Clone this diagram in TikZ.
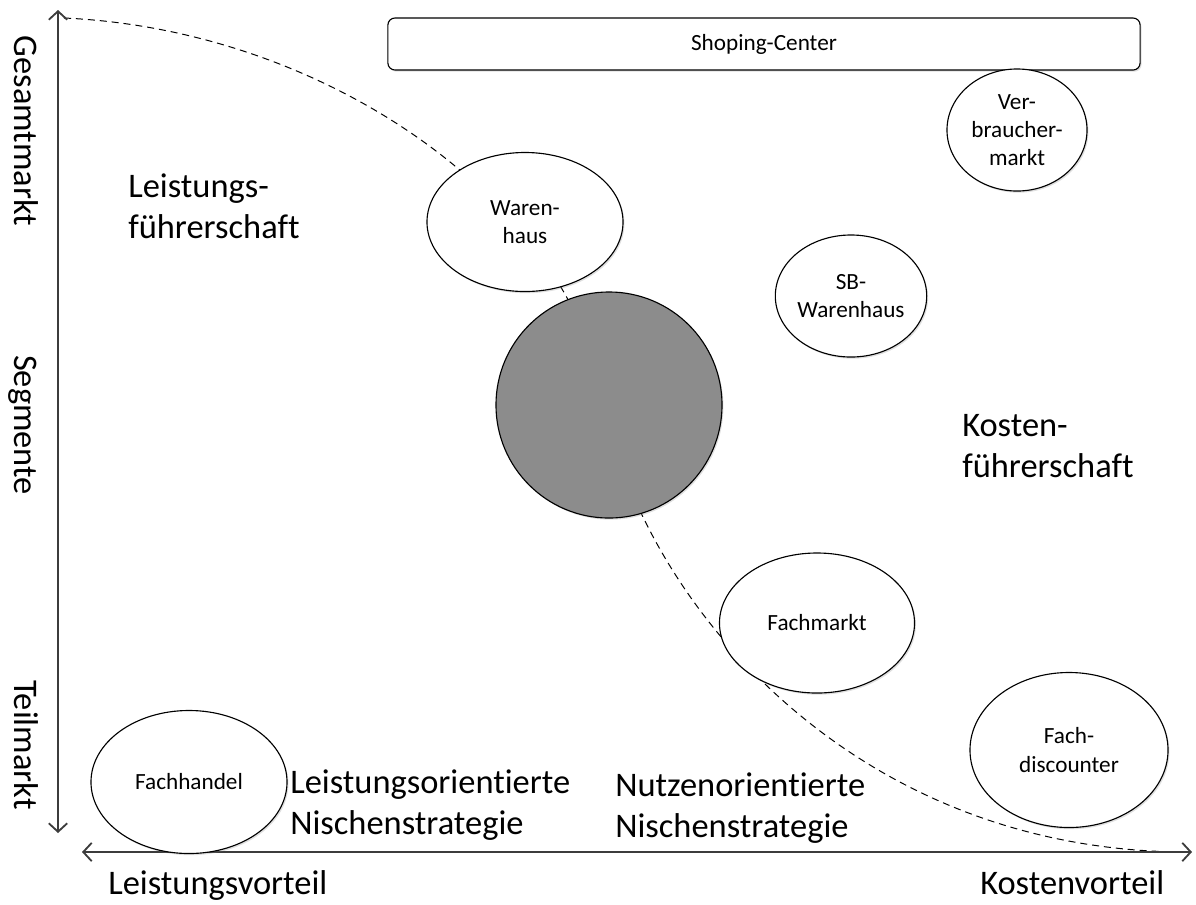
\documentclass[tikz,border=0pt]{standalone}
\usepackage{fontspec}
\setmainfont{Carlito}[Ligatures=NoCommon]
\usetikzlibrary{shapes.geometric,arrows.meta,shadows,positioning}
\definecolor{bubblegray}{RGB}{140,140,140}
\definecolor{axisgray}{RGB}{60,60,60}

\tikzset{
    >={Straight Barb[length=6pt,width=13pt]},
    axis/.style={<->, line width=1.3pt, axisgray},
    border/.style={dash pattern=on 5pt off 3.5pt, line width=0.7pt},
    softshadow/.style={drop shadow={opacity=0.25, shadow xshift=1pt, shadow yshift=-1.2pt}},
    store/.style={ellipse, draw, fill=white, line width=0.8pt, inner sep=0pt,
        align=center, softshadow, font=\fontsize{16.5}{20}\selectfont},
    bigtext/.style={align=left, inner sep=0pt, font=\fontsize{24.5}{29}\selectfont},
    axislabel/.style={rotate=-90, inner sep=0pt, font=\fontsize{24.5}{29}\selectfont}
}

\begin{document}
\begin{tikzpicture}[x=0.025cm, y=-0.025cm]

    \useasboundingbox (0,0) rectangle (1196,904);

    %axis ends
    \coordinate (ytop) at (58,10);
    \coordinate (ybottom) at (58,833);
    \coordinate (xleft) at (82,852);
    \coordinate (xright) at (1192,852);

    %dashed border curve
    \coordinate (cstart) at (64,18);
    \coordinate (cmid) at (603,400);
    \coordinate (cend) at (1188,852);
    \draw [border] (cstart) .. controls (330,30) and (572,205) .. (cmid)
        .. controls (642,600) and (850,852) .. (cend);

    %axes
    \draw [axis] (ybottom) -- (ytop);
    \draw [axis] (xleft) -- (xright);

    %axis labels
    \node [axislabel, anchor=base] (gesamt) at (15,131) {Gesamtmarkt};
    \node [axislabel, anchor=base] (segmente) at (15,425) {Segmente};
    \node [axislabel, anchor=base] (teil) at (15,745) {Teilmarkt};
    \node [bigtext, anchor=base west] (leistvort) at (108,894) {Leistungsvorteil};
    \node [bigtext, anchor=base west] (kostvort) at (980,894) {Kostenvorteil};

    %stores
    \node [draw, fill=white, rounded corners=5pt, line width=0.8pt, softshadow,
        minimum width=18.8cm, minimum height=1.3cm, font=\fontsize{16.5}{20}\selectfont]
        (shopping) at (764,44) {Shoping-Center};
    \node [store, minimum width=3.5cm, minimum height=3.05cm] (verbraucher) at (1017,130) {Ver-\\braucher-\\markt};
    \node [store, minimum width=4.9cm, minimum height=3.475cm] (warenhaus) at (525,222) {Waren-\\haus};
    \node [store, minimum width=3.75cm, minimum height=3.05cm] (sbwarenhaus) at (851,296) {SB-\\Warenhaus};
    \node [circle, draw, fill=bubblegray, line width=0.8pt, softshadow, minimum size=5.65cm] (bubble) at (609,405) {};
    \node [store, minimum width=4.875cm, minimum height=3.5cm] (fachmarkt) at (817,623) {Fachmarkt};
    \node [store, minimum width=4.95cm, minimum height=3.875cm] (fachdisc) at (1069,750) {Fach-\\discounter};
    \node [store, minimum width=4.9cm, minimum height=3.575cm] (fachhandel) at (189,782) {Fachhandel};

    %strategies
    \node [bigtext, anchor=west] (leistfuehr) at (128,206) {Leistungs-\\führerschaft};
    \node [bigtext, anchor=west] (kostfuehr) at (962,446) {Kosten-\\führerschaft};
    \node [bigtext, anchor=west] (leistnische) at (290,805) {Leistungsorientierte\\Nischenstrategie};
    \node [bigtext, anchor=west] (nutznische) at (615,808) {Nutzenorientierte\\Nischenstrategie};

\end{tikzpicture}
\end{document}
